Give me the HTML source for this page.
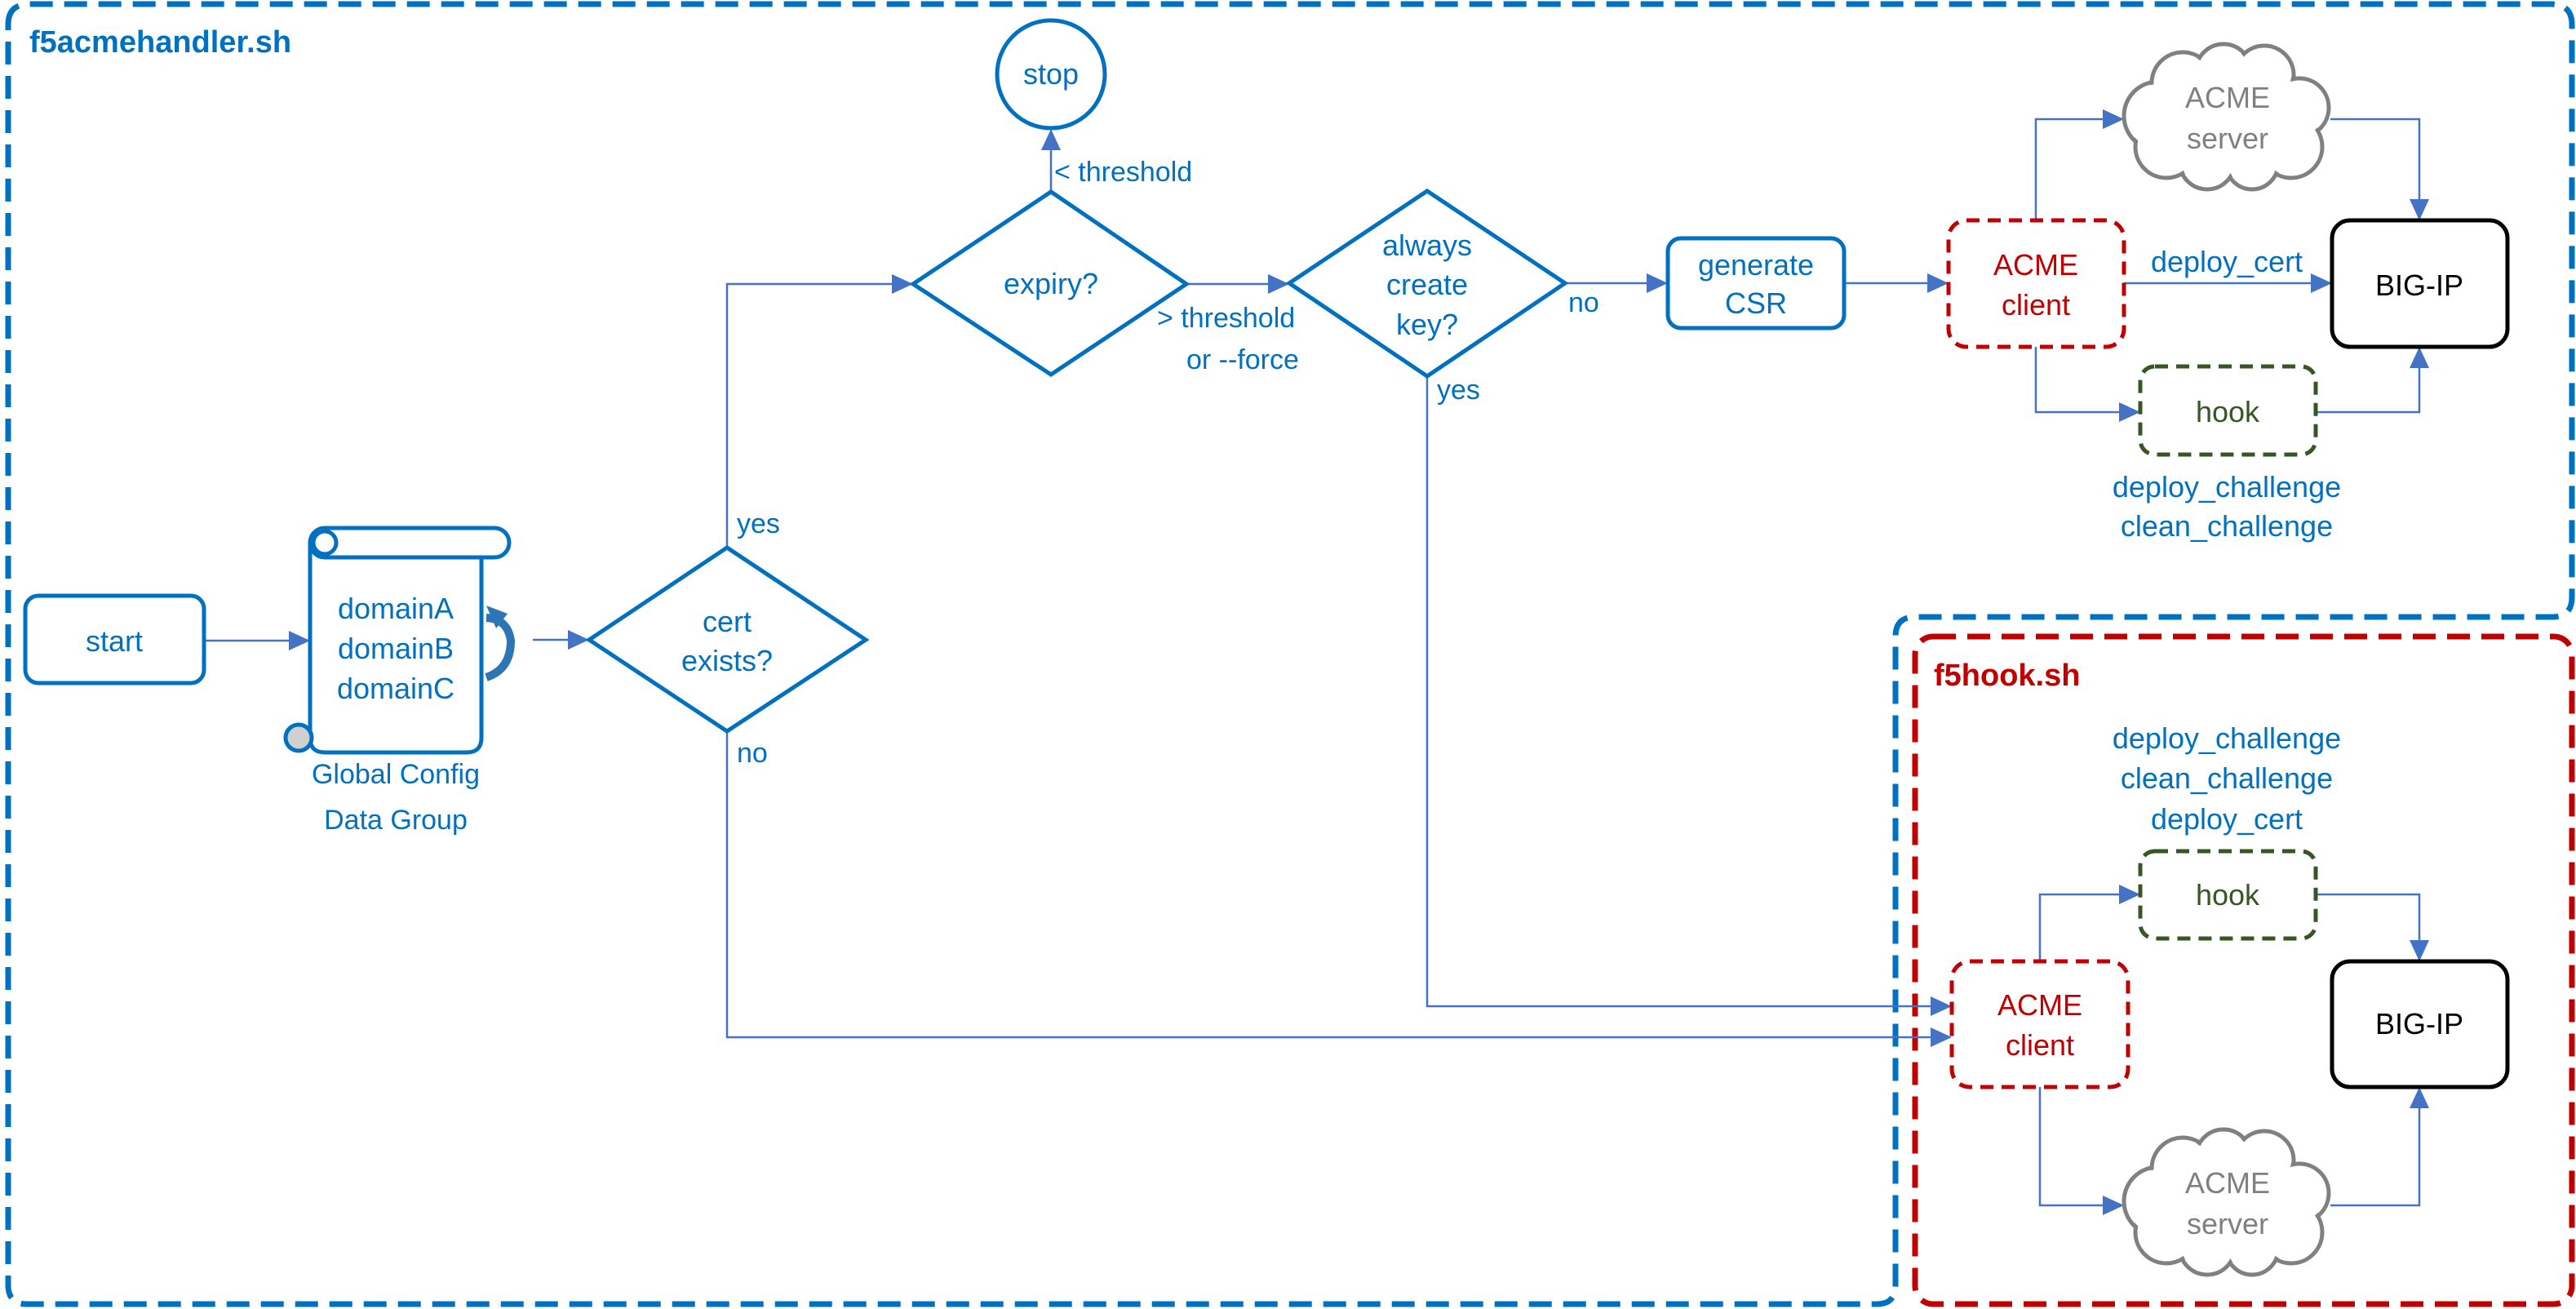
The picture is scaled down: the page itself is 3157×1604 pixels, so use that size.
<!DOCTYPE html>
<html><head><meta charset="utf-8"><style>
html,body{margin:0;padding:0;background:#fff;}
svg{display:block;}
text{font-family:"Liberation Sans",sans-serif;}
</style></head><body>
<svg width="3157" height="1604" viewBox="0 0 3157 1604" xmlns="http://www.w3.org/2000/svg">
<!-- containers -->
<path d="M10 30 Q10 5 36 5 H3126 Q3152 5 3152 30 V732 Q3152 756 3128 756 H2347 Q2323 756 2323 780 V1575 Q2323 1598 2300 1598 H33 Q10 1598 10 1575 Z" fill="none" stroke="#0070c0" stroke-width="7" stroke-dasharray="28 14"/>
<rect x="2347" y="780" width="805" height="818" rx="22" fill="none" stroke="#c00000" stroke-width="7" stroke-dasharray="28 14"/>
<text x="36" y="64" font-size="38" font-weight="bold" fill="#0070c0">f5acmehandler.sh</text>
<text x="2370" y="840" font-size="38" font-weight="bold" fill="#c00000">f5hook.sh</text>

<!-- connectors -->
<g fill="none" stroke="#4472c4" stroke-width="2.5">
<path d="M250 785 H360"/>
<path d="M653 784 H704"/>
<path d="M891 671 V348 H1101"/>
<path d="M1288 235 V176"/>
<path d="M1454 348 H1562"/>
<path d="M1918 347 H2026"/>
<path d="M2260 347 H2370"/>
<path d="M2603 347 H2840"/>
<path d="M2495 270 V146 H2585"/>
<path d="M2856 146 H2965 V252"/>
<path d="M2495 425 V505 H2605"/>
<path d="M2838 505 H2965 V443"/>
<path d="M1749 461 V1233 H2374"/>
<path d="M891 896 V1271 H2374"/>
<path d="M2500 1178 V1096 H2605"/>
<path d="M2838 1096 H2965 V1160"/>
<path d="M2500 1332 V1477 H2585"/>
<path d="M2856 1477 H2965 V1350"/>
</g>
<g fill="#4472c4">
<polygon points="354,773 380,785 354,797"/>
<polygon points="696,772 722,784 696,796"/>
<polygon points="1093,336 1119,348 1093,360"/>
<polygon points="1276,184 1288,158 1300,184"/>
<polygon points="1554,336 1580,348 1554,360"/>
<polygon points="2018,335 2044,347 2018,359"/>
<polygon points="2362,335 2388,347 2362,359"/>
<polygon points="2832,335 2858,347 2832,359"/>
<polygon points="2577,134 2603,146 2577,158"/>
<polygon points="2953,244 2965,270 2977,244"/>
<polygon points="2597,493 2623,505 2597,517"/>
<polygon points="2953,451 2965,425 2977,451"/>
<polygon points="2366,1221 2392,1233 2366,1245"/>
<polygon points="2366,1259 2392,1271 2366,1283"/>
<polygon points="2597,1084 2623,1096 2597,1108"/>
<polygon points="2953,1152 2965,1178 2977,1152"/>
<polygon points="2577,1465 2603,1477 2577,1489"/>
<polygon points="2953,1358 2965,1332 2977,1358"/>
</g>

<!-- start -->
<rect x="31" y="730" width="219" height="107" rx="16" fill="#fff" stroke="#0070c0" stroke-width="5"/>
<text x="140" y="798" font-size="36" fill="#0070c0" text-anchor="middle">start</text>

<!-- scroll -->
<g stroke="#0070c0" stroke-width="5" fill="#fff">
<path d="M380 665 V904 Q380 922 398 922 H572 Q590 922 590 904 V683"/>
<rect x="380" y="647" width="244" height="36" rx="18"/>
<circle cx="398" cy="665" r="14" fill="#fff"/>
<circle cx="366" cy="904" r="16" fill="#d0d0d0"/>
</g>
<text font-size="36" fill="#0070c0" text-anchor="middle"><tspan x="485" y="758">domainA</tspan><tspan x="485" y="807">domainB</tspan><tspan x="485" y="856">domainC</tspan></text>
<path d="M596 757 Q622 758 626 785 Q626 820 596 830" fill="none" stroke="#2e75b6" stroke-width="10"/>
<polygon points="596,742 622,752 608,770" fill="#2e75b6"/>
<text font-size="34" fill="#0070c0" text-anchor="middle"><tspan x="485" y="960">Global Config</tspan><tspan x="485" y="1016">Data Group</tspan></text>

<!-- cert exists -->
<polygon points="891,671 1061,784 891,896 722,784" fill="#fff" stroke="#0070c0" stroke-width="5"/>
<text font-size="36" fill="#0070c0" text-anchor="middle"><tspan x="891" y="774">cert</tspan><tspan x="891" y="822">exists?</tspan></text>
<text x="903" y="653" font-size="34" fill="#0070c0">yes</text>
<text x="903" y="934" font-size="34" fill="#0070c0">no</text>

<!-- expiry -->
<polygon points="1288,235 1454,348 1288,459 1119,348" fill="#fff" stroke="#0070c0" stroke-width="5"/>
<text x="1288" y="360" font-size="36" fill="#0070c0" text-anchor="middle">expiry?</text>
<circle cx="1288" cy="91" r="66" fill="#fff" stroke="#0070c0" stroke-width="5"/>
<text x="1288" y="103" font-size="36" fill="#0070c0" text-anchor="middle">stop</text>
<text x="1292" y="222" font-size="34" fill="#0070c0">&lt; threshold</text>
<text font-size="34" fill="#0070c0"><tspan x="1418" y="401">&gt; threshold</tspan><tspan x="1454" y="452">or --force</tspan></text>

<!-- always create key -->
<polygon points="1749,234 1918,347 1749,461 1580,347" fill="#fff" stroke="#0070c0" stroke-width="5"/>
<text font-size="36" fill="#0070c0" text-anchor="middle"><tspan x="1749" y="313">always</tspan><tspan x="1749" y="361">create</tspan><tspan x="1749" y="410">key?</tspan></text>
<text x="1922" y="382" font-size="34" fill="#0070c0">no</text>
<text x="1761" y="489" font-size="34" fill="#0070c0">yes</text>

<!-- generate CSR -->
<rect x="2044" y="292" width="216" height="110" rx="16" fill="#fff" stroke="#0070c0" stroke-width="5"/>
<text font-size="36" fill="#0070c0" text-anchor="middle"><tspan x="2152" y="337">generate</tspan><tspan x="2152" y="384">CSR</tspan></text>

<!-- top ACME client -->
<rect x="2388" y="270" width="215" height="155" rx="22" fill="#fff" stroke="#c00000" stroke-width="5" stroke-dasharray="16 10"/>
<text font-size="36" fill="#c00000" text-anchor="middle"><tspan x="2495" y="337">ACME</tspan><tspan x="2495" y="386">client</tspan></text>
<text x="2729" y="333" font-size="36" fill="#0070c0" text-anchor="middle">deploy_cert</text>
<rect x="2858" y="270" width="215" height="155" rx="22" fill="#fff" stroke="#000" stroke-width="5"/>
<text x="2965" y="362" font-size="36" fill="#000" text-anchor="middle">BIG-IP</text>
<rect x="2623" y="449" width="215" height="108" rx="18" fill="#fff" stroke="#375623" stroke-width="5" stroke-dasharray="16 10"/>
<text x="2730" y="517" font-size="36" fill="#375623" text-anchor="middle">hook</text>
<text font-size="36" fill="#0070c0" text-anchor="middle"><tspan x="2729" y="609">deploy_challenge</tspan><tspan x="2729" y="657">clean_challenge</tspan></text>

<!-- clouds -->
<g id="cloud1">
<g fill="#fff" stroke="#808080" stroke-width="5">
<circle cx="2645" cy="142" r="42"/><circle cx="2675" cy="102" r="38"/><circle cx="2725" cy="88" r="34"/><circle cx="2775" cy="92" r="36"/><circle cx="2818" cy="132" r="36"/><circle cx="2808" cy="180" r="38"/><circle cx="2760" cy="200" r="32"/><circle cx="2705" cy="198" r="34"/><circle cx="2655" cy="180" r="38"/>
</g>
<g fill="#fff">
<circle cx="2645" cy="142" r="39"/><circle cx="2675" cy="102" r="35"/><circle cx="2725" cy="88" r="31"/><circle cx="2775" cy="92" r="33"/><circle cx="2818" cy="132" r="33"/><circle cx="2808" cy="180" r="35"/><circle cx="2760" cy="200" r="29"/><circle cx="2705" cy="198" r="31"/><circle cx="2655" cy="180" r="35"/><ellipse cx="2730" cy="146" rx="95" ry="65"/>
</g>
</g>
<text font-size="36" fill="#808080" text-anchor="middle"><tspan x="2730" y="132">ACME</tspan><tspan x="2730" y="182">server</tspan></text>
<use href="#cloud1" transform="translate(0,1330)"/>
<text font-size="36" fill="#808080" text-anchor="middle"><tspan x="2730" y="1462">ACME</tspan><tspan x="2730" y="1512">server</tspan></text>

<!-- f5hook.sh content -->
<text font-size="36" fill="#0070c0" text-anchor="middle"><tspan x="2729" y="917">deploy_challenge</tspan><tspan x="2729" y="966">clean_challenge</tspan><tspan x="2729" y="1016">deploy_cert</tspan></text>
<rect x="2623" y="1043" width="215" height="107" rx="18" fill="#fff" stroke="#375623" stroke-width="5" stroke-dasharray="16 10"/>
<text x="2730" y="1109" font-size="36" fill="#375623" text-anchor="middle">hook</text>
<rect x="2392" y="1178" width="216" height="154" rx="22" fill="#fff" stroke="#c00000" stroke-width="5" stroke-dasharray="16 10"/>
<text font-size="36" fill="#c00000" text-anchor="middle"><tspan x="2500" y="1244">ACME</tspan><tspan x="2500" y="1293">client</tspan></text>
<rect x="2858" y="1178" width="215" height="154" rx="22" fill="#fff" stroke="#000" stroke-width="5"/>
<text x="2965" y="1267" font-size="36" fill="#000" text-anchor="middle">BIG-IP</text>
</svg>
</body></html>
